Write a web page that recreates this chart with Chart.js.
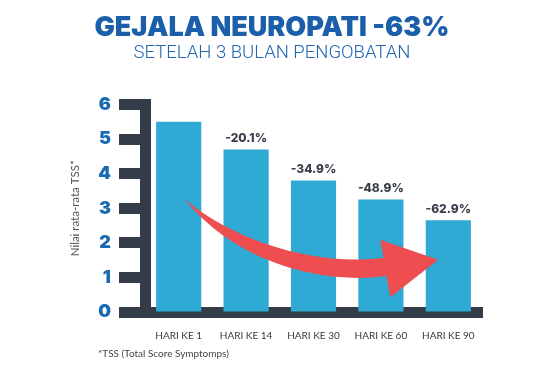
<!DOCTYPE html>
<html>
<head>
<meta charset="utf-8">
<script src="https://cdn.jsdelivr.net/npm/chart.js@4.4.1/dist/chart.umd.min.js"></script>
<style>
    html, body { margin: 0; padding: 0; background: #fff; }
</style>
</head>
<body>
<canvas id="neuroChart" width="550" height="373"></canvas>
<script>
const categories = ['HARI KE 1', 'HARI KE 14', 'HARI KE 30', 'HARI KE 60', 'HARI KE 90'];
const tssValues = [5.5, 4.7, 3.8, 3.25, 2.65];
const changeLabels = ['', '-20.1%', '-34.9%', '-48.9%', '-62.9%'];
const yMin = 0;
const yMax = 6;

const DARK = '#333c48';
const BLUE = '#1b5fab';

// percentage above each bar
const changeLabelPlugin = {
    id: 'changeLabels',
    afterDatasetsDraw(chart) {
        const ctx = chart.ctx;
        const meta = chart.getDatasetMeta(0);
        ctx.save();
        ctx.fillStyle = '#3a3f4b';
        ctx.font = '800 12px Inter';
        ctx.textAlign = 'center';
        ctx.textBaseline = 'middle';
        meta.data.forEach((bar, i) => {
            if (changeLabels[i]) ctx.fillText(changeLabels[i], bar.x, bar.y - 11);
        });
        ctx.restore();
    }
};

// big red curved arrow, points given in (category index, value) space
const arrowPlugin = {
    id: 'trendArrow',
    afterDatasetsDraw(chart) {
        const { x, y } = chart.scales;
        const p = (i, v) => [x.getPixelForValue(i), y.getPixelForValue(v)];
        const ctx = chart.ctx;
        const s = p(0.09, 3.25);
        ctx.save();
        ctx.fillStyle = '#ef4e50';
        ctx.beginPath();
        ctx.moveTo(...s);
        ctx.bezierCurveTo(...p(0.91, 1.94), ...p(2.1, 1.33), ...p(3.04, 1.57));
        ctx.lineTo(...p(2.99, 2.09));
        ctx.lineTo(...p(3.85, 1.51));
        ctx.lineTo(...p(3.14, 0.43));
        ctx.lineTo(...p(3.08, 1.04));
        ctx.bezierCurveTo(...p(2.1, 0.78), ...p(0.84, 1.45), ...s);
        ctx.closePath();
        ctx.fill();
        ctx.restore();
    }
};

const footnotePlugin = {
    id: 'footnote',
    afterDraw(chart) {
        const ctx = chart.ctx;
        ctx.save();
        ctx.fillStyle = '#444';
        ctx.font = '10px Lato';
        ctx.textBaseline = 'middle';
        ctx.fillText('*TSS (Total Score Symptomps)', 98, 354);
        ctx.restore();
    }
};

const ctx = document.getElementById('neuroChart').getContext('2d');
new Chart(ctx, {
    type: 'bar',
    data: {
        labels: categories,
        datasets: [{
            data: tssValues,
            backgroundColor: '#2eaad5',
            barPercentage: 0.67,
            categoryPercentage: 1
        }]
    },
    options: {
        responsive: false,
        animation: false,
        layout: {
            padding: { left: 62, right: 68, top: 0, bottom: 13 }
        },
        scales: {
            x: {
                z: 1,
                grid: { display: false, drawTicks: false },
                border: { display: true, width: 11, color: DARK },
                ticks: {
                    color: '#3a3a3a',
                    font: { family: 'Lato', size: 10 },
                    padding: 18
                }
            },
            y: {
                min: yMin,
                max: yMax,
                ticks: {
                    stepSize: 1,
                    color: '#1a6ab3',
                    font: { family: 'Inter', size: 18, weight: 900 },
                    padding: 8
                },
                grid: {
                    drawOnChartArea: false,
                    tickLength: 26,
                    tickWidth: 11,
                    tickColor: DARK
                },
                border: { display: true, width: 11, color: DARK },
                title: {
                    display: true,
                    text: 'Nilai rata-rata TSS*',
                    color: '#555',
                    font: { family: 'Lato', size: 11.5 },
                    padding: { top: 6, bottom: 0 }
                },
                afterFit(scale) {
                    scale.width = 83;
                }
            }
        },
        plugins: {
            legend: { display: false },
            tooltip: { enabled: false },
            title: {
                display: true,
                text: 'GEJALA NEUROPATI -63%',
                color: BLUE,
                font: { family: 'Inter', size: 27, weight: 900, lineHeight: 1 },
                padding: { top: 14, bottom: 0 }
            },
            subtitle: {
                display: true,
                text: 'SETELAH 3 BULAN PENGOBATAN',
                color: '#2166b1',
                font: { family: 'Roboto', size: 18.5, weight: 300, lineHeight: 1 },
                padding: { top: 3, bottom: 42 }
            }
        }
    },
    plugins: [changeLabelPlugin, arrowPlugin, footnotePlugin]
});
</script>
</body>
</html>
